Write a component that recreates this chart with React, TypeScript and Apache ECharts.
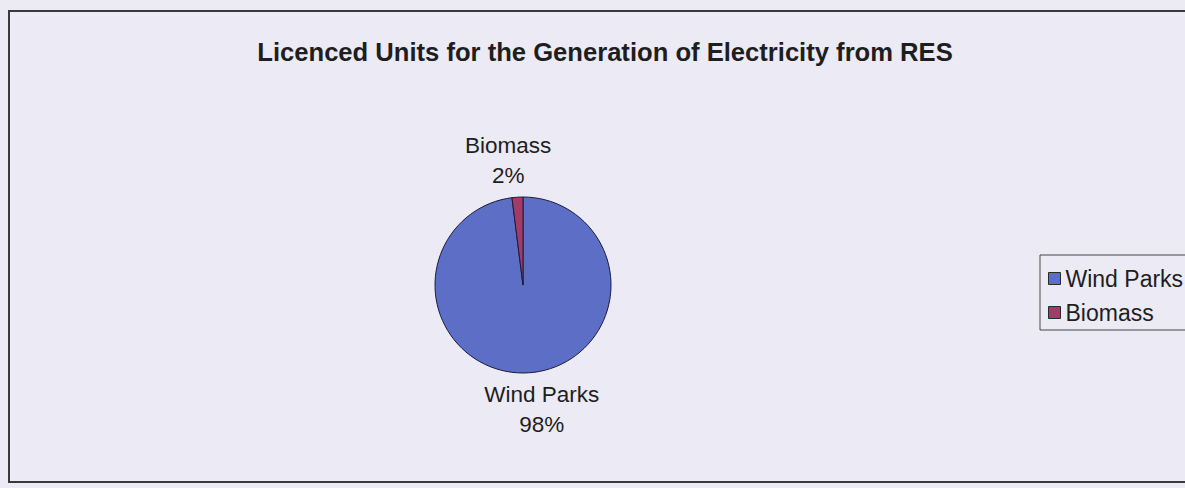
import React, { useEffect, useRef } from "react";
import * as echarts from "echarts";

// Licensed RES generation units, share by technology (%)
const categories = ["Wind Parks", "Biomass"];
const shares = [98, 2];
const sliceColors = ["#5d6ec6", "#a23c66"];
const titleText = "Licenced Units for the Generation of Electricity from RES";

const FONT = "'Liberation Sans', Arial, sans-serif";

// small horizontal nudges for the outside labels, by slice
const labelDx = [6, -2];

export default function App() {
  const ref = useRef<HTMLDivElement>(null);

  useEffect(() => {
    if (!ref.current) return;
    const chart = echarts.init(ref.current, undefined, { renderer: "svg" });
    chart.setOption({
      animation: false,
      backgroundColor: "#ebeaf5",
      title: {
        text: titleText,
        left: 600,
        textAlign: "center",
        top: 34,
        textStyle: {
          fontFamily: FONT,
          fontSize: 25.6,
          fontWeight: "bold",
          color: "#1e1e1e",
        },
      },
      legend: {
        orient: "vertical",
        left: 1040,
        top: 255,
        padding: [12, 40, 6, 8],
        itemGap: 11,
        itemWidth: 12,
        itemHeight: 12,
        icon: "rect",
        itemStyle: { borderColor: "#2a2a2a", borderWidth: 1 },
        borderColor: "#444",
        borderWidth: 1,
        textStyle: { fontFamily: FONT, fontSize: 23, color: "#1e1e1e" },
        data: categories,
      },
      graphic: [
        {
          type: "rect",
          shape: { x: 9, y: 11, width: 1200, height: 471 },
          style: { fill: "none", stroke: "#3a3a3a", lineWidth: 2 },
          silent: true,
        },
      ],
      series: [
        {
          type: "pie",
          center: [523, 285],
          radius: 88,
          startAngle: 90,
          clockwise: true,
          itemStyle: { borderColor: "#1c1c3a", borderWidth: 1 },
          label: {
            show: true,
            position: "outside",
            formatter: "{b}\n{d}%",
            fontFamily: FONT,
            fontSize: 22.5,
            lineHeight: 30,
            color: "#1e1e1e",
            align: "center",
          },
          labelLine: { show: false, length: 37, length2: 0 },
          labelLayout: (params: any) => ({
            align: "center",
            dx: labelDx[params.dataIndex] || 0,
          }),
          data: categories.map((name, i) => ({
            name,
            value: shares[i],
            itemStyle: { color: sliceColors[i] },
          })),
        },
      ],
    });
    return () => chart.dispose();
  }, []);

  return (
    <div
      style={{
        position: "absolute",
        left: 0,
        top: 0,
        width: 1185,
        height: 488,
        background: "#ebeaf5",
      }}
    >
      <div ref={ref} style={{ width: 1185, height: 488 }} />
    </div>
  );
}
